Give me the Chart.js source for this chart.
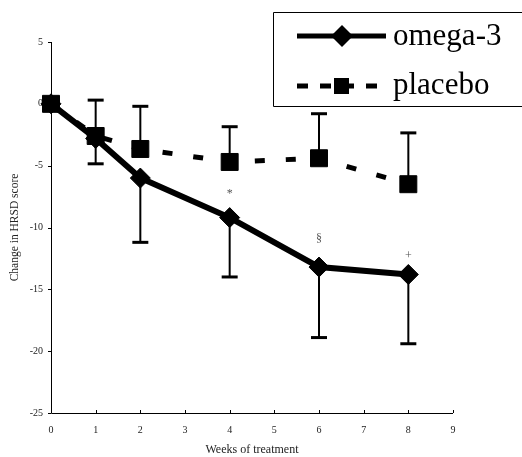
<!DOCTYPE html>
<html>
<head>
<meta charset="utf-8">
<script src="https://cdn.jsdelivr.net/npm/chart.js@4/dist/chart.umd.min.js"></script>
<style>
  body { margin: 0; background: #fff; overflow: hidden; }
  #wrap { width: 522px; height: 457px; }
  canvas { display: block; }
</style>
</head>
<body>
<div id="wrap"><canvas id="chart" width="522" height="457"></canvas></div>
<script>
// HRSD change, omega-3 vs placebo
var weeks = [0, 1, 2, 4, 6, 8];
var omegaMean = [0, -2.8, -6.0, -9.2, -13.2, -13.8];
var omegaLow = [null, -4.85, -11.2, -14.0, -18.9, -19.4];   // lower end of error bar
var placeboMean = [0, -2.6, -3.65, -4.7, -4.4, -6.5];
var placeboHigh = [null, 0.3, -0.2, -1.85, -0.8, -2.35];   // upper end of error bar
var marks = [[4, -7.3, '*'], [6, -10.9, '§'], [8, -12.3, '+']];
var yTicks = [5, 0, -5, -10, -15, -20, -25];

var serif = '"Liberation Serif", "Times New Roman", serif';

function pts(xs, ys) {
  return xs.map(function (x, i) { return { x: x, y: ys[i] }; });
}

// axes, tick marks, error bars, the little significance marks and the legend
var extras = {
  id: 'extras',
  beforeDatasetsDraw: function (chart) {
    var ctx = chart.ctx, xs = chart.scales.x, ys = chart.scales.y, a = chart.chartArea;
    ctx.save();
    ctx.strokeStyle = '#000';
    // axis lines
    ctx.lineWidth = 1;
    ctx.beginPath();
    ctx.moveTo(a.left + 0.5, a.top);
    ctx.lineTo(a.left + 0.5, a.bottom + 0.5);
    ctx.lineTo(a.right, a.bottom + 0.5);
    ctx.stroke();
    // y ticks point out, x ticks point in
    ctx.beginPath();
    yTicks.forEach(function (v) {
      var py = Math.round(ys.getPixelForValue(v)) + 0.5;
      ctx.moveTo(a.left - 3, py);
      ctx.lineTo(a.left, py);
    });
    for (var k = 1; k <= 9; k++) {
      var px = Math.round(xs.getPixelForValue(k)) + 0.5;
      ctx.moveTo(px, a.bottom);
      ctx.lineTo(px, a.bottom - 3);
    }
    ctx.stroke();

    // error bars
    function bar(x, from, to) {
      var px = xs.getPixelForValue(x);
      var p1 = ys.getPixelForValue(from), p2 = ys.getPixelForValue(to);
      ctx.lineWidth = 2;
      ctx.beginPath();
      ctx.moveTo(px, p1);
      ctx.lineTo(px, p2);
      ctx.stroke();
      ctx.lineWidth = 3;
      ctx.beginPath();
      ctx.moveTo(px - 8, p2);
      ctx.lineTo(px + 8, p2);
      ctx.stroke();
    }
    weeks.forEach(function (w, i) {
      if (omegaLow[i] !== null) { bar(w, omegaMean[i], omegaLow[i]); }
      if (placeboHigh[i] !== null) { bar(w, placeboMean[i], placeboHigh[i]); }
    });
    ctx.restore();
  },
  afterDatasetsDraw: function (chart) {
    var ctx = chart.ctx, xs = chart.scales.x, ys = chart.scales.y;
    ctx.save();
    ctx.fillStyle = '#555';
    ctx.font = '12px ' + serif;
    ctx.textAlign = 'center';
    ctx.textBaseline = 'middle';
    marks.forEach(function (m) {
      ctx.fillText(m[2], xs.getPixelForValue(m[0]), ys.getPixelForValue(m[1]));
    });

    // legend box, open on the right: it runs off the edge in the original
    ctx.fillStyle = '#fff';
    ctx.fillRect(274, 13, 248, 93);
    ctx.strokeStyle = '#000';
    ctx.lineWidth = 1;
    ctx.beginPath();
    ctx.moveTo(522, 12.5);
    ctx.lineTo(273.5, 12.5);
    ctx.lineTo(273.5, 106.5);
    ctx.lineTo(522, 106.5);
    ctx.stroke();

    ctx.fillStyle = '#000';
    ctx.lineCap = 'butt';
    // omega-3 row
    ctx.lineWidth = 5;
    ctx.beginPath();
    ctx.moveTo(297, 36);
    ctx.lineTo(386, 36);
    ctx.stroke();
    ctx.beginPath();
    ctx.moveTo(342, 25);
    ctx.lineTo(353, 36);
    ctx.lineTo(342, 47);
    ctx.lineTo(331, 36);
    ctx.closePath();
    ctx.fill();
    // placebo row
    ctx.setLineDash([11, 12]);
    ctx.beginPath();
    ctx.moveTo(297, 86);
    ctx.lineTo(386, 86);
    ctx.stroke();
    ctx.setLineDash([]);
    ctx.fillRect(334, 78, 15, 16);

    ctx.font = '31px ' + serif;
    ctx.textAlign = 'left';
    ctx.textBaseline = 'alphabetic';
    ctx.fillText('omega-3', 393, 45);
    ctx.fillText('placebo', 393, 94);
    ctx.restore();
  }
};

new Chart(document.getElementById('chart'), {
  type: 'line',
  data: {
    datasets: [
      {
        label: 'omega-3',
        data: pts(weeks, omegaMean),
        borderColor: '#000',
        backgroundColor: '#000',
        borderWidth: 6,
        pointStyle: 'rectRot',
        pointRadius: 10,
        pointBorderWidth: 1,
        tension: 0,
        clip: false,
        order: 1
      },
      {
        label: 'placebo',
        data: pts(weeks, placeboMean),
        borderColor: '#000',
        backgroundColor: '#000',
        borderWidth: 5,
        borderDash: [10, 21],
        pointStyle: 'rect',
        pointRadius: 12,
        pointBorderWidth: 1,
        tension: 0,
        clip: false,
        order: 0
      }
    ]
  },
  options: {
    responsive: false,
    animation: false,
    devicePixelRatio: 1,
    events: [],
    layout: { padding: { top: 42, right: 69, left: 0, bottom: 0 } },
    plugins: { legend: { display: false }, tooltip: { enabled: false } },
    scales: {
      x: {
        type: 'linear',
        min: 0,
        max: 9,
        grid: { display: false, drawTicks: false },
        border: { display: false },
        ticks: { stepSize: 1, padding: 11, color: '#222', font: { family: serif, size: 10 } },
        title: { display: true, text: 'Weeks of treatment', color: '#222', padding: { top: 0, bottom: 0 }, font: { family: serif, size: 12 } },
        afterFit: function (s) { s.height = 44; }
      },
      y: {
        min: -25,
        max: 5,
        grid: { display: false, drawTicks: false },
        border: { display: false },
        ticks: { stepSize: 5, padding: 8, color: '#222', font: { family: serif, size: 10 } },
        title: { display: true, text: 'Change in HRSD score', color: '#222', padding: { top: 8, bottom: 0 }, font: { family: serif, size: 11.5 } },
        afterFit: function (s) { s.width = 51; }
      }
    }
  },
  plugins: [extras]
});
</script>
</body>
</html>
